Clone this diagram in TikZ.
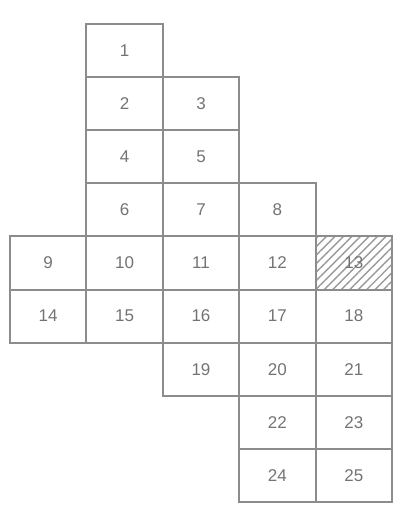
\documentclass[tikz,border=0pt]{standalone}
\usepackage{fontspec}
\setmainfont{Liberation Sans}
\usetikzlibrary{patterns.meta}

\begin{document}
\begin{tikzpicture}[x=1pt, y=1pt,
    cell/.style={draw=gray!90, line width=2pt, minimum width=76.4pt, minimum height=53.1pt,
        inner sep=0pt, text=gray!90!black, font=\fontsize{17}{19}\selectfont}]
    % 1. Page frame
    \useasboundingbox (0,0) rectangle (396,-512);

    % 2. Plain cells (column/row/number)
    \foreach \c/\r/\n in {1/0/1, 1/1/2, 2/1/3, 1/2/4, 2/2/5, 1/3/6, 2/3/7, 3/3/8,
        0/4/9, 1/4/10, 2/4/11, 3/4/12, 0/5/14, 1/5/15, 2/5/16, 3/5/17, 4/5/18,
        2/6/19, 3/6/20, 4/6/21, 3/7/22, 4/7/23, 3/8/24, 4/8/25}
        \node[cell] (c\n) at ({10+76.4*(\c+0.5)}, {-24-53.1*(\r+0.5)}) {\n};

    % 3. Hatched cell
    \node[cell, pattern={Lines[angle=45, distance=6pt, line width=1.4pt]}, pattern color=gray!80]
        (c13) at ({10+76.4*4.5}, {-24-53.1*4.5}) {13};
\end{tikzpicture}
\end{document}
